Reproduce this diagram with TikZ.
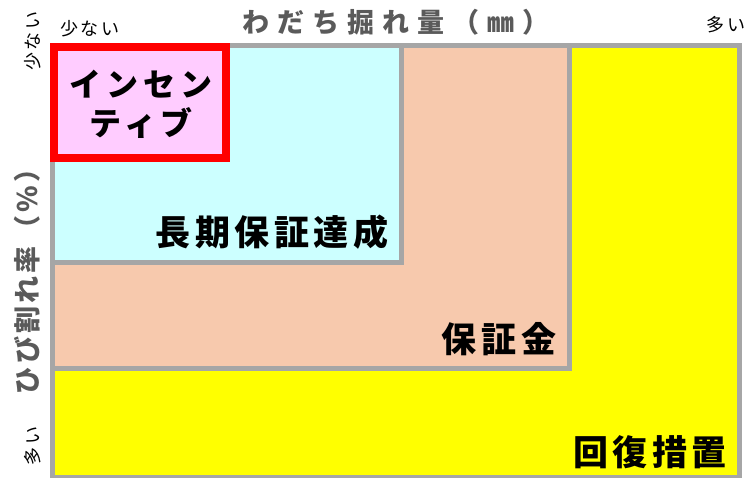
\documentclass[tikz,border=0pt]{standalone}
\usepackage{fontspec}
\setmainfont{Noto Sans CJK JP}
\newfontfamily\jpA[LetterSpace=13]{Noto Sans CJK JP}
\newfontfamily\jpB[LetterSpace=15]{Noto Sans CJK JP}
\newfontfamily\jpT[LetterSpace=30]{Noto Sans CJK JP}
\newfontfamily\jpV[LetterSpace=12]{Noto Sans CJK JP}
\definecolor{edgegray}{HTML}{A6A6A6}
\definecolor{yellowfill}{HTML}{FFFF00}
\definecolor{salmonfill}{HTML}{F7C9AD}
\definecolor{cyanfill}{HTML}{CCFFFF}
\definecolor{pinkfill}{HTML}{FFCCFF}
\definecolor{redline}{HTML}{FF0000}
\definecolor{titlegray}{HTML}{5A5A5A}
\tikzset{
  zone/.style={draw=edgegray, line width=5pt},
  biglabel/.style={inner sep=0pt, font=\jpA\bfseries\fontsize{35}{40}\selectfont, text=black},
  inclabel/.style={inner sep=0pt, font=\jpB\bfseries\fontsize{32}{39}\selectfont, text=black},
  xtitlestyle/.style={inner sep=0pt, font=\jpT\bfseries\fontsize{27}{30}\selectfont, text=titlegray},
  ytitlestyle/.style={inner sep=0pt, font=\jpV\bfseries\fontsize{27}{30}\selectfont, text=titlegray},
  endlabel/.style={inner sep=0pt, font=\jpB\fontsize{18}{20}\selectfont, text=black},
}
\begin{document}
\begin{tikzpicture}[x=1pt,y=-1pt]
\useasboundingbox (0,0) rectangle (744,478);
\fill[white] (0,0) rectangle (744,478);
% zones
\draw[zone, fill=yellowfill] (52.5,45.5) rectangle (739.5,477);
\draw[zone, fill=salmonfill] (52.5,45.5) rectangle (569,368.5);
\draw[zone, fill=cyanfill] (52.5,45.5) rectangle (401.5,262.5);
\draw[draw=redline, line width=8pt, fill=pinkfill] (54,47) rectangle (226,158);
% labels
\node[inclabel, align=center] (inc) at (141,104) {インセン\\ティブ};
\node[biglabel] (long) at (272,232.5) {長期保証達成};
\node[biglabel] (dep) at (499,339.5) {保証金};
\node[biglabel] (rec) at (650,452) {回復措置};
% axes
\node[xtitlestyle] (xtitle) at (396,22.5) {わだち掘れ量（㎜）};
\node[ytitlestyle, rotate=90] (ytitle) at (27,275) {ひび割れ率（\%）};
\node[endlabel] (xlow) at (90,28.5) {少ない};
\node[endlabel] (xhigh) at (726,25) {多い};
\node[endlabel, rotate=90] (ylow) at (33,41) {少ない};
\node[endlabel, rotate=90] (yhigh) at (33,446) {多い};
\end{tikzpicture}
\end{document}
